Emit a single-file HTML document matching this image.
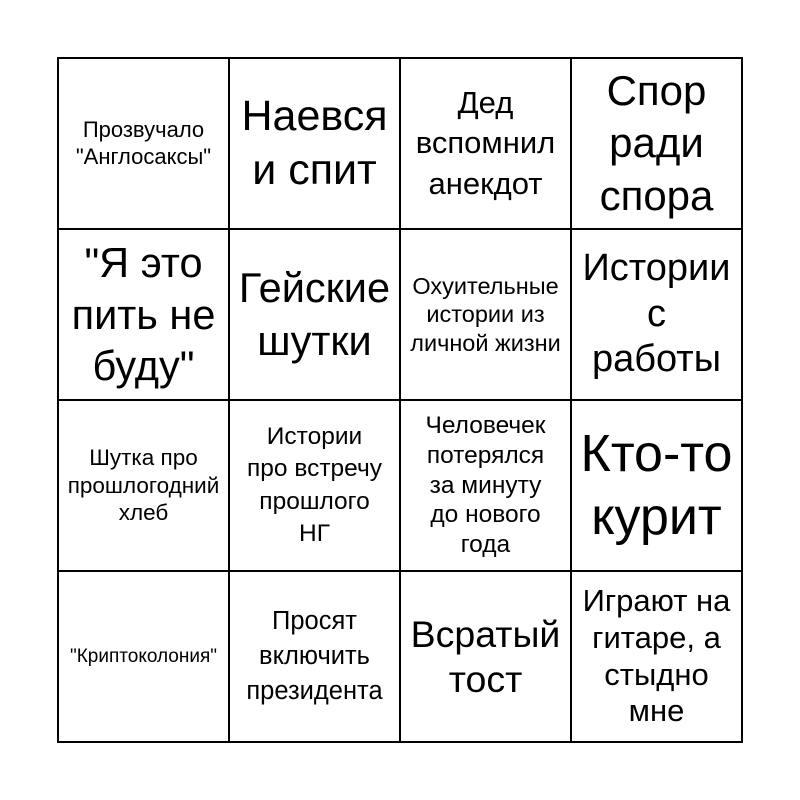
<!DOCTYPE html>
<html><head><meta charset="utf-8"><style>
body{margin:0;background:#fff;width:800px;height:800px;position:relative;font-family:"Liberation Sans",Arial,sans-serif;}
.g{position:absolute;left:57px;top:57px;width:686px;height:686px;border:1.5px solid #000;box-sizing:border-box;display:grid;grid-template-columns:repeat(4,1fr);grid-template-rows:repeat(4,1fr);}
.c{border:0.75px solid #000;display:flex;align-items:center;justify-content:center;text-align:center;color:#000;padding:0;line-height:1.25;white-space:nowrap;}
</style></head><body>
<div class="g">
<div class="c" style="font-size:22px;line-height:1.22">Прозвучало<br>"Англосаксы"</div>
<div class="c" style="font-size:43px;line-height:1.25">Наевся<br>и спит</div>
<div class="c" style="font-size:31px;line-height:1.3">Дед<br>вспомнил<br>анекдот</div>
<div class="c" style="font-size:42px;line-height:1.24">Спор<br>ради<br>спора</div>
<div class="c" style="font-size:41.5px;line-height:1.25">"Я это<br>пить не<br>буду"</div>
<div class="c" style="font-size:41.5px;line-height:1.27">Гейские<br>шутки</div>
<div class="c" style="font-size:23.5px;line-height:1.2">Охуительные<br>истории из<br>личной жизни</div>
<div class="c" style="font-size:38px;line-height:1.2">Истории<br>с<br>работы</div>
<div class="c" style="font-size:22.5px;line-height:1.22">Шутка про<br>прошлогодний<br>хлеб</div>
<div class="c" style="font-size:24.5px;line-height:1.31">Истории<br>про встречу<br>прошлого<br>НГ</div>
<div class="c" style="font-size:24.5px;line-height:1.22">Человечек<br>потерялся<br>за минуту<br>до нового<br>года</div>
<div class="c" style="font-size:52px;line-height:1.2">Кто-то<br>курит</div>
<div class="c" style="font-size:19px">"Криптоколония"</div>
<div class="c" style="font-size:25.5px;line-height:1.37">Просят<br>включить<br>президента</div>
<div class="c" style="font-size:37.5px;line-height:1.2">Всратый<br>тост</div>
<div class="c" style="font-size:31px;line-height:1.19">Играют на<br>гитаре, а<br>стыдно<br>мне</div>
</div>
</body></html>
